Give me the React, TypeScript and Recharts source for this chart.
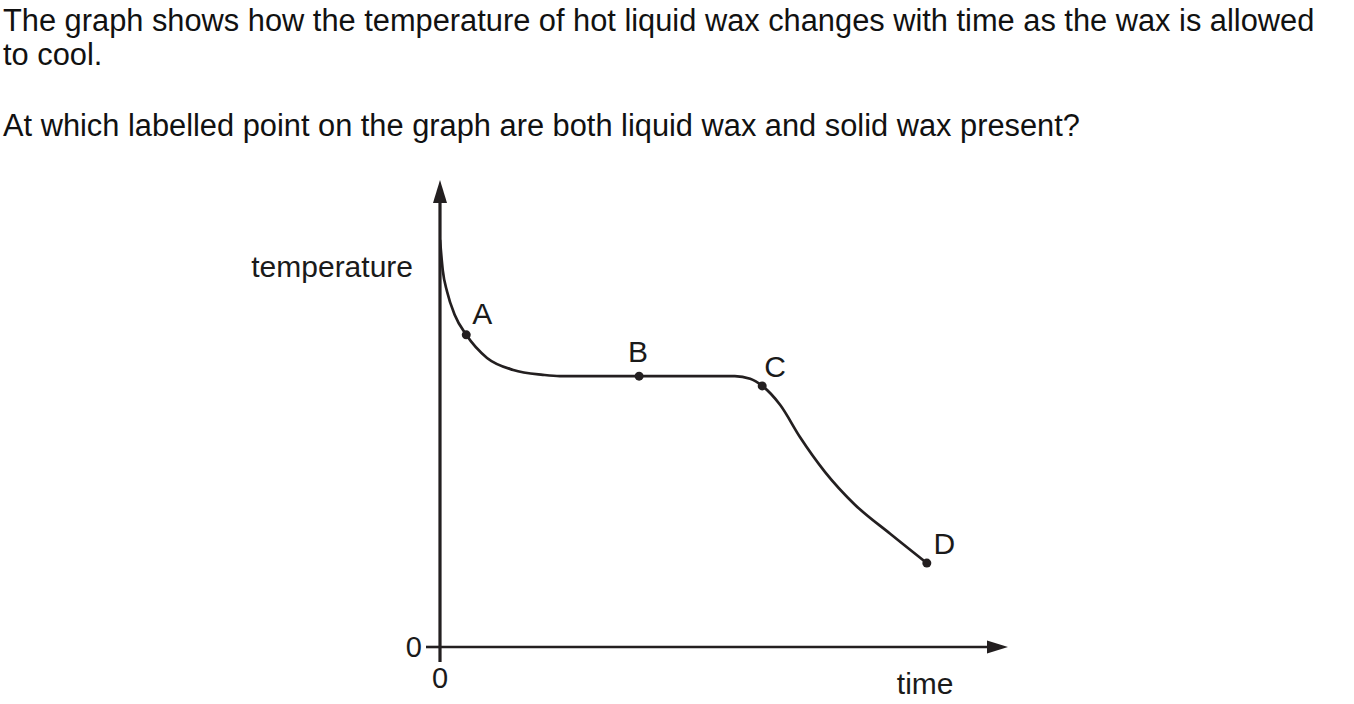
import React from 'react';
import { LineChart, Line, XAxis, YAxis, ReferenceDot } from 'recharts';

// Cooling curve of wax (arbitrary units, 0–100 on both axes)
const timeValues = [0, 0.5, 1.3, 2.7, 4.8, 8.6, 13.4, 18.8, 21.9, 36.4, 53.9, 56.7, 58.9, 62.2, 65.8, 70.4, 75.9, 82.3, 89.0];
const temperatureValues = [91.7, 84.9, 80.0, 74.8, 70.3, 65.1, 62.4, 61.3, 61.0, 61.0, 61.0, 60.4, 58.8, 54.5, 47.3, 39.4, 32.0, 25.5, 18.9];
const pointLabels = ['', '', '', '', 'A', '', '', '', '', 'B', '', '', 'C', '', '', '', '', '', 'D'];
const axisTicks = [0];
const xAxisName = 'time';
const yAxisName = 'temperature';
const questionLine1 = 'The graph shows how the temperature of hot liquid wax changes with time as the wax is allowed';
const questionLine2 = 'to cool.';
const questionLine3 = 'At which labelled point on the graph are both liquid wax and solid wax present?';

const data = timeValues.map((t, i) => ({ t, temp: temperatureValues[i], label: pointLabels[i] }));

const INK = '#231f20';
const FONT = '"Liberation Sans", Arial, Helvetica, sans-serif';

// label placement relative to each marked point (style only)
const labelOffsets: Record<string, { dx: number; dy: number }> = {
  A: { dx: 16, dy: -11 },
  B: { dx: -1, dy: -14 },
  C: { dx: 13, dy: -9 },
  D: { dx: 17.5, dy: -9 },
};

const renderDot = (props: any) => {
  const { cx, cy, payload, index } = props;
  if (!payload || !payload.label) return <g key={`d-${index}`} />;
  const off = labelOffsets[payload.label];
  return (
    <g key={`d-${index}`}>
      <circle cx={cx} cy={cy} r={4.5} fill={INK} />
      <text x={cx + off.dx} y={cy + off.dy} textAnchor="middle" fontSize={30} fill="#1a1a1a" fontFamily={FONT}>
        {payload.label}
      </text>
    </g>
  );
};

const UpArrow = (props: any) => {
  const { cx, cy } = props;
  return <polygon points={`${cx},${cy - 23} ${cx - 7},${cy} ${cx + 7},${cy}`} fill={INK} />;
};

const RightArrow = (props: any) => {
  const { cx, cy } = props;
  return <polygon points={`${cx + 21},${cy} ${cx},${cy - 6.5} ${cx},${cy + 6.5}`} fill={INK} />;
};

export default function App() {
  return (
    <div style={{ position: 'absolute', left: 0, top: 0, width: 1354, height: 704, background: '#fff', fontFamily: FONT, color: '#111' }}>
      <div style={{ position: 'absolute', left: 3, top: 4, fontSize: 30.8, lineHeight: '34px', whiteSpace: 'nowrap' }}>
        {questionLine1}
        <br />
        {questionLine2}
      </div>
      <div style={{ position: 'absolute', left: 3, top: 109, fontSize: 30.8, lineHeight: '34px', whiteSpace: 'nowrap' }}>
        {questionLine3}
      </div>
      <div style={{ position: 'absolute', left: 0, top: 0 }}>
        <LineChart width={1354} height={704} data={data} margin={{ top: 203, right: 367, bottom: 27, left: 380 }}>
          <XAxis
            dataKey="t"
            type="number"
            domain={[0, 100]}
            ticks={axisTicks}
            height={30}
            axisLine={{ stroke: INK, strokeWidth: 2.6 }}
            tickLine={{ stroke: INK, strokeWidth: 3.2 }}
            tickSize={15}
            tickMargin={5}
            tick={{ fontSize: 29, fill: '#1a1a1a', fontFamily: FONT }}
            allowDataOverflow
          />
          <YAxis
            dataKey="temp"
            type="number"
            domain={[0, 100]}
            ticks={axisTicks}
            width={60}
            axisLine={{ stroke: INK, strokeWidth: 3.2 }}
            tickLine={{ stroke: INK, strokeWidth: 2.6 }}
            tickSize={14}
            tickMargin={4}
            tick={{ fontSize: 29, fill: '#1a1a1a', fontFamily: FONT }}
            allowDataOverflow
          />
          <Line
            dataKey="temp"
            type="monotone"
            stroke={INK}
            strokeWidth={2.7}
            dot={renderDot}
            activeDot={false}
            isAnimationActive={false}
          />
          <ReferenceDot x={0} y={100} ifOverflow="visible" shape={UpArrow} />
          <ReferenceDot x={100} y={0} ifOverflow="visible" shape={RightArrow} />
          <ReferenceDot
            x={0}
            y={85.8}
            r={0}
            fill="none"
            stroke="none"
            ifOverflow="visible"
            label={{ value: yAxisName, position: 'left', offset: 27, fontSize: 30, fill: '#1a1a1a', fontFamily: FONT }}
          />
          <ReferenceDot
            x={88.7}
            y={0}
            r={0}
            fill="none"
            stroke="none"
            ifOverflow="visible"
            label={{ value: xAxisName, position: 'bottom', offset: 26, fontSize: 30, fill: '#1a1a1a', fontFamily: FONT }}
          />
        </LineChart>
      </div>
    </div>
  );
}
